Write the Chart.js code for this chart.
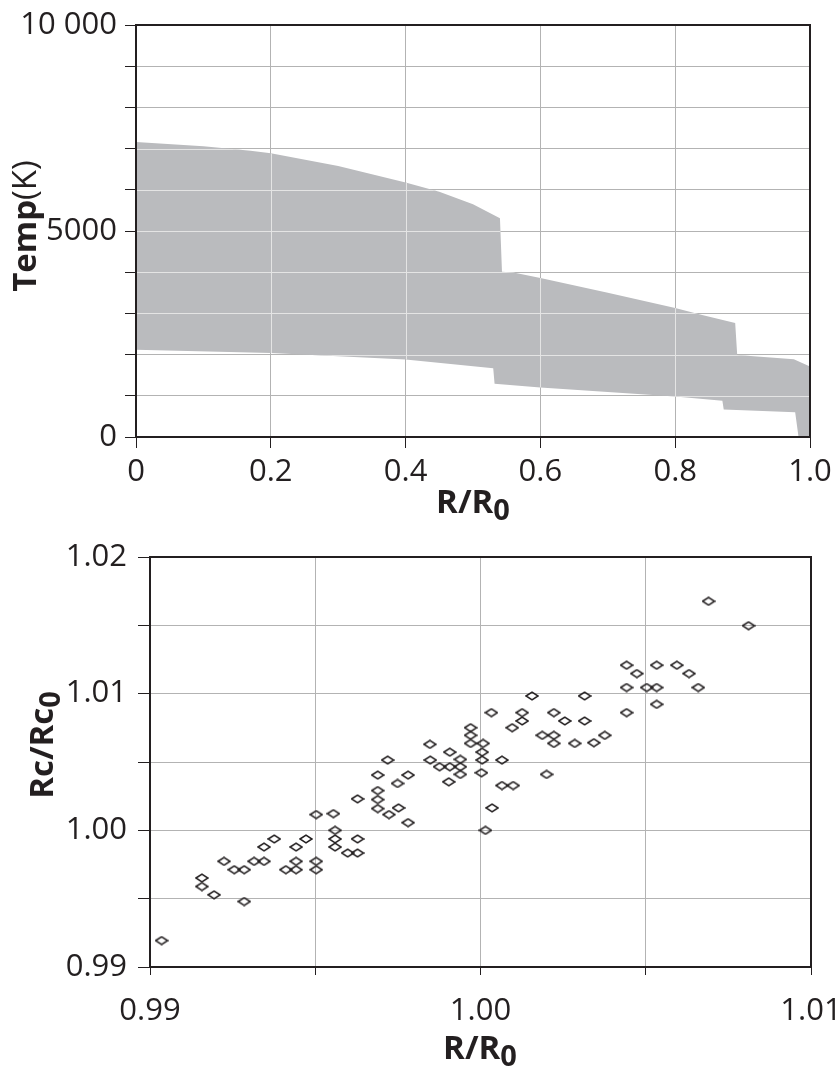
<!DOCTYPE html>
<html>
<head>
<meta charset="utf-8">
<script src="https://cdn.jsdelivr.net/npm/chart.js@4/dist/chart.umd.min.js"></script>
<style>
  html, body { margin: 0; padding: 0; background: #fff; }
  .box { position: absolute; left: 0; }
</style>
</head>
<body>
<div class="box" style="top:0"><canvas id="tempChart" width="835" height="540"></canvas></div>
<div class="box" style="top:540px"><canvas id="radiusChart" width="835" height="537"></canvas></div>
<script>
// temperature band: upper and lower edges vs R/R0
const rUpper = [0, 0.1, 0.17, 0.2, 0.3, 0.4, 0.45, 0.5, 0.54, 0.543, 0.56, 0.6, 0.7, 0.8, 0.84, 0.889, 0.892, 0.976, 1.0];
const tUpper = [7160, 7060, 6950, 6890, 6580, 6180, 5950, 5650, 5310, 4010, 3990, 3860, 3500, 3130, 2960, 2770, 1990, 1890, 1710];
const rLower = [0, 0.2, 0.4, 0.53, 0.532, 0.6, 0.8, 0.87, 0.872, 0.978, 0.983, 1.0];
const tLower = [2120, 2040, 1880, 1670, 1290, 1200, 980, 880, 670, 600, 0, 0];

// Rc/Rc0 against R/R0
const rRatio = [
  0.99035, 0.99157, 0.99157, 0.99194, 0.99224, 0.99255, 0.99285, 0.99285, 0.99315, 0.99345,
  0.99345, 0.99376, 0.99411, 0.99442, 0.99442, 0.99442, 0.99472, 0.99503, 0.99503, 0.99503,
  0.99555, 0.9956, 0.9956, 0.9956, 0.99598, 0.99628, 0.99628, 0.99628, 0.99689, 0.99689,
  0.99689, 0.99689, 0.99719, 0.99723, 0.99749, 0.99752, 0.99781, 0.99781, 0.99847, 0.99848,
  0.99876, 0.99907, 0.99907, 0.99904, 0.99939, 0.99939, 0.99939, 0.9997, 0.9997, 0.9997,
  1.00008, 1.00005, 1.00005, 1.00003, 1.00015, 1.00035, 1.00033, 1.00065, 1.00065, 1.00099,
  1.00096, 1.00126, 1.00126, 1.00156, 1.002, 1.00187, 1.00222, 1.00222, 1.00222, 1.00255,
  1.00285, 1.00315, 1.00315, 1.00343, 1.00376, 1.00442, 1.00473, 1.00442, 1.00442, 1.00503,
  1.00533, 1.00533, 1.00533, 1.00594, 1.00631, 1.00659, 1.0069, 1.00811
];
const rcRatio = [
  0.99193, 0.99651, 0.99589, 0.99528, 0.99773, 0.99712, 0.99712, 0.99479, 0.99773, 0.99878,
  0.99773, 0.99937, 0.99712, 0.99878, 0.99773, 0.99712, 0.99937, 1.00115, 0.99773, 0.99712,
  1.00122, 1.0000, 0.99937, 0.99878, 0.99834, 0.99834, 0.99937, 1.0023, 1.00404, 1.00291,
  1.00225, 1.00159, 1.00514, 1.00115, 1.00343, 1.00164, 1.00404, 1.00056, 1.00629, 1.00514,
  1.00465, 1.00572, 1.00465, 1.00355, 1.00519, 1.00465, 1.00409, 1.00751, 1.00695, 1.00636,
  1.00636, 1.00572, 1.00514, 1.00421, 1.0000, 1.00164, 1.00861, 1.00514, 1.00328, 1.00328,
  1.00751, 1.00861, 1.008, 1.00983, 1.00409, 1.00695, 1.00695, 1.00636, 1.00861, 1.008,
  1.00636, 1.00983, 1.008, 1.00641, 1.00695, 1.01208, 1.01147, 1.01045, 1.00861, 1.01045,
  1.01208, 1.01045, 1.00922, 1.01208, 1.01147, 1.01045, 1.01676, 1.01497
];

const FONT = "'Open Sans', 'Noto Sans', sans-serif";
const INK = '#231f20';
const GRID = '#b3b3b3';

Chart.defaults.font.family = FONT;
Chart.defaults.font.size = 31;
Chart.defaults.color = INK;
Chart.defaults.animation = false;

const pts = (xs, ys) => xs.map((x, i) => ({ x: x, y: ys[i] }));

// keep label overhang from shrinking the plot area
const noOverhang = s => { s.paddingLeft = 0; s.paddingRight = 0; s.paddingTop = 0; s.paddingBottom = 0; };

// black outline of the plot area
const frame = {
  id: 'frame',
  afterDraw(chart) {
    const { ctx, chartArea: a } = chart;
    ctx.save();
    ctx.strokeStyle = INK;
    ctx.lineWidth = 2;
    ctx.strokeRect(a.left, a.top, a.right - a.left, a.bottom - a.top);
    ctx.restore();
  }
};

// axis titles mixing bold, regular and lowered "0"
const richTitles = {
  id: 'richTitles',
  afterDraw(chart, args, opts) {
    const ctx = chart.ctx;
    (opts.items || []).forEach(item => {
      ctx.save();
      ctx.translate(item.x, item.y);
      if (item.rotate) ctx.rotate(item.rotate);
      ctx.fillStyle = INK;
      ctx.textBaseline = 'middle';
      ctx.textAlign = 'left';
      const fontOf = p => (p.bold ? 'bold ' : '') + (p.size || 33) + 'px ' + FONT;
      let w = 0;
      item.parts.forEach(p => { ctx.font = fontOf(p); w += ctx.measureText(p.t).width; });
      let cx = -w / 2;
      item.parts.forEach(p => {
        ctx.font = fontOf(p);
        ctx.fillText(p.t, cx, p.dy || 0);
        cx += ctx.measureText(p.t).width;
      });
      ctx.restore();
    });
  }
};

// light grid lines crossing the shaded band
const gridOverFill = {
  id: 'gridOverFill',
  afterDatasetsDraw(chart) {
    const up = chart.getDatasetMeta(0).data;
    const lo = chart.getDatasetMeta(1).data;
    const { ctx, chartArea: a, scales: { x, y } } = chart;
    ctx.save();
    ctx.beginPath();
    up.forEach((p, i) => i ? ctx.lineTo(p.x, p.y) : ctx.moveTo(p.x, p.y));
    for (let i = lo.length - 1; i >= 0; i--) ctx.lineTo(lo[i].x, lo[i].y);
    ctx.closePath();
    ctx.clip();
    ctx.strokeStyle = '#e4e4e4';
    ctx.lineWidth = 1;
    ctx.beginPath();
    x.ticks.forEach(t => {
      const px = Math.round(x.getPixelForValue(t.value)) + 0.5;
      ctx.moveTo(px, a.top); ctx.lineTo(px, a.bottom);
    });
    y.ticks.forEach(t => {
      const py = Math.round(y.getPixelForValue(t.value)) + 0.5;
      ctx.moveTo(a.left, py); ctx.lineTo(a.right, py);
    });
    ctx.stroke();
    ctx.restore();
  }
};

// flattened open diamond marker
function diamond() {
  const c = document.createElement('canvas');
  c.width = 14; c.height = 10;
  const g = c.getContext('2d');
  g.strokeStyle = INK;
  g.lineWidth = 1.6;
  g.beginPath();
  g.moveTo(1, 5); g.lineTo(7, 1.1); g.lineTo(13, 5); g.lineTo(7, 8.9); g.closePath();
  g.stroke();
  return c;
}

const isMultiple = (v, step) => Math.abs(Math.round(v / step) * step - v) < 1e-7;

new Chart(document.getElementById('tempChart'), {
  type: 'scatter',
  data: {
    datasets: [
      { data: pts(rUpper, tUpper), showLine: true, pointRadius: 0, borderWidth: 0,
        backgroundColor: '#babbbe', fill: '+1' },
      { data: pts(rLower, tLower), showLine: true, pointRadius: 0, borderWidth: 0,
        backgroundColor: '#babbbe', fill: false }
    ]
  },
  options: {
    responsive: false,
    layout: { padding: { top: 25, right: 25, left: 0, bottom: 0 } },
    plugins: {
      legend: { display: false },
      tooltip: { enabled: false },
      richTitles: {
        items: [
          { x: 473, y: 504, parts: [{ t: 'R/R', bold: true }, { t: '0', bold: true, size: 29, dy: 8 }] },
          { x: 27, y: 226, rotate: -Math.PI / 2, parts: [{ t: 'Temp', bold: true }, { t: '(K)' }] }
        ]
      }
    },
    scales: {
      x: {
        type: 'linear', min: 0, max: 1,
        afterFit: s => { s.height = 103; noOverhang(s); },
        border: { display: false },
        grid: { color: GRID, tickColor: INK, tickLength: 11 },
        ticks: { stepSize: 0.2, padding: 6, autoSkip: false, maxRotation: 0,
          callback: v => v === 0 ? '0' : v.toFixed(1) }
      },
      y: {
        min: 0, max: 10000,
        afterFit: s => { s.width = 136; noOverhang(s); },
        border: { display: false },
        grid: { color: GRID, tickColor: INK, tickLength: 11 },
        ticks: { stepSize: 1000, padding: 8, autoSkip: false,
          callback: v => v === 10000 ? '10 000' : (v % 5000 === 0 ? String(v) : '') }
      }
    }
  },
  plugins: [gridOverFill, frame, richTitles]
});

new Chart(document.getElementById('radiusChart'), {
  type: 'scatter',
  data: {
    datasets: [
      { data: pts(rRatio, rcRatio), pointStyle: diamond(), pointRadius: 6 }
    ]
  },
  options: {
    responsive: false,
    layout: { padding: { top: 17, right: 24, left: 0, bottom: 0 } },
    plugins: {
      legend: { display: false },
      tooltip: { enabled: false },
      richTitles: {
        items: [
          { x: 480, y: 510, parts: [{ t: 'R/R', bold: true }, { t: '0', bold: true, size: 29, dy: 8 }] },
          { x: 44, y: 205, rotate: -Math.PI / 2, parts: [{ t: 'Rc/Rc', bold: true }, { t: '0', bold: true, size: 29, dy: 8 }] }
        ]
      }
    },
    scales: {
      x: {
        type: 'linear', min: 0.99, max: 1.01,
        afterFit: s => { s.height = 110; noOverhang(s); },
        border: { display: false },
        grid: { color: GRID, tickColor: INK, tickLength: 8 },
        ticks: { stepSize: 0.005, padding: 18, autoSkip: false, maxRotation: 0,
          callback: v => isMultiple(v, 0.01) ? v.toFixed(2) : '' }
      },
      y: {
        min: 0.99, max: 1.02,
        afterFit: s => { s.width = 150; noOverhang(s); },
        border: { display: false },
        grid: { color: GRID, tickColor: INK, tickLength: 12 },
        ticks: { stepSize: 0.005, padding: 11, autoSkip: false,
          callback: v => isMultiple(v, 0.01) ? v.toFixed(2) : '' }
      }
    }
  },
  plugins: [frame, richTitles]
});
</script>
</body>
</html>
